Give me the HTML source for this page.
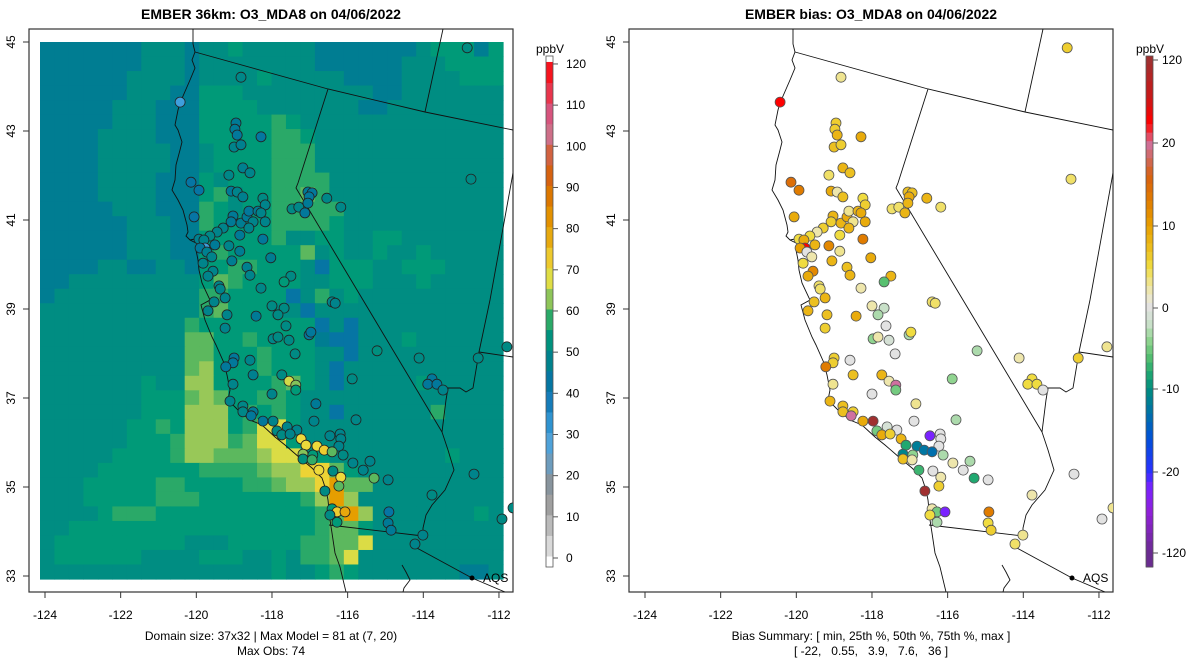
<!DOCTYPE html>
<html><head><meta charset="utf-8"><title>EMBER O3_MDA8</title>
<style>
html,body{margin:0;padding:0;background:#fff;}
svg{display:block;font-family:"Liberation Sans",Arial,sans-serif;}
</style></head>
<body>
<svg id="fig" width="1200" height="672" viewBox="0 0 1200 672" xmlns="http://www.w3.org/2000/svg">
<defs>
<clipPath id="clipL"><rect x="29" y="29" width="484" height="563"/></clipPath>
<clipPath id="clipR"><rect x="629" y="29" width="484" height="563"/></clipPath>
</defs>
<text x="271" y="19" text-anchor="middle" font-size="14" font-weight="bold">EMBER 36km: O3_MDA8 on 04/06/2022</text>
<text x="871" y="19" text-anchor="middle" font-size="14" font-weight="bold">EMBER bias: O3_MDA8 on 04/06/2022</text>
<g id="gL"></g>
<g id="gR"></g>
<text x="271" y="640" text-anchor="middle" font-size="12">Domain size: 37x32 | Max Model = 81 at (7, 20)</text>
<text x="271" y="655" text-anchor="middle" font-size="12">Max Obs: 74</text>
<text x="871" y="640" text-anchor="middle" font-size="12">Bias Summary: [ min, 25th %, 50th %, 75th %, max ]</text>
<text x="871" y="655" text-anchor="middle" font-size="12" style="white-space:pre" xml:space="preserve">[ -22,   0.55,   3.9,   7.6,   36 ]</text>
</svg>
<script>
// ---- data ----
const gridRows = [
"aaaaaaabbbabbcbbbbbaaaaaaabcccac",
"aaaaaaabbbabbbbbbbbaaaaaabbbcccc",
"aaaaaabbbbabbbbcbbbbbaaaabbbbccc",
"aaaaaabbbaacccbbbbbbbbbaabbbbbbb",
"aaaaabbbaaaccccbbbbbbbaabbbbbbbb",
"aaaaabbbaaacccccdcbbbbbbbbbbbbbb",
"aaaabbbbaaacccccddcbbbbbbbbbbbbb",
"aaaabbbbbaabccccdddbbbbbbbbbbbbb",
"aaaabbbbbaabccccdddbbbbbbbbbbbbb",
"aaaabbbbaaacbcccddddbbbbbbbbbbbb",
"aaaabbbbaaacdbccddedbbbbbbbbbbbb",
"aaaaabbbaaadcbccdddddbbbbbbbbbbb",
"aaaaaabbbaadccccddddcbbbbbbbbbbb",
"aaaaaabbbaacccccdbbccbbccbbbbbbb",
"aaaaaabbbaacdcccccebcbbcbbcbbbbb",
"aaaabbaabbaccddcccbhcccbbcccbbbb",
"aabbbbbbbbbcedccccbbcccbbbcbbbbb",
"abbbbbbbbbbddcccchbdbcbbbbbbbbbb",
"bbbbbbbbbbbdecccbbhbbbbbbbbbbbbb",
"bbbbbbbbbbdcccccccchbhbbbbbbbbbb",
"bbbbbbbbbbeeccdccccahhbbbcbbbbbb",
"bbbbbbbbbbeecccdcccbbhbbbbbbbbbb",
"bbbbbbbbbbefcccdcccbhbbbbbbbbbbb",
"bbbbbbbcbbffccccdecbhbbbbbcbbbbb",
"bbbbbbbcccefeccddcbbbbbbbbbbbbbb",
"bbbbbbbcccfffcdcdcbbhbbbbbbdbbbb",
"bbbbbbccdcfffcdggcbbbbbbbbbbbbbb",
"bbbbbbcccdfffdeggcbbbbbbbbbbbbbb",
"bbbbbccccdffeeefggbcbbbbbbbbcbbb",
"bbbbcccccccddddeffyyecbbbbbbbbbb",
"bbbcccccddccccddeffyoeebbbbbbbbb",
"bbbcccccdddcccccccdfofbbbbbbbbbb",
"bbbbcdddcccccccccccdeofbbbbbbbcb",
"bbcccccccccccccccccdeecbbbbbbbbb",
"bcccccccccbbbcccccddeegbbbbbbbbb",
"bccccccbbbbcccbbcbddegbbbbbbbbbb",
"bbbbbbbbbbbbbbbbcbbcdcbbbbbbbaab"];
const codeValues = {a:46,b:51,c:55,d:57.5,e:60,f:63,g:67,y:71,o:80,h:42};
const siteLon = [-118.82,-120.43,-112.84,-112.74,-118.95,-118.98,-118.92,-118.29,-119.00,-118.82,-118.77,-118.58,-119.14,-120.14,-119.93,-119.08,-118.92,-118.77,-118.24,-118.18,-117.05,-116.94,-117.02,-117.05,-117.47,-117.29,-117.13,-116.55,-116.18,-120.06,-119.03,-119.08,-118.82,-118.66,-118.61,-118.37,-118.29,-118.50,-118.18,-119.29,-119.45,-119.64,-119.93,-119.80,-119.77,-119.90,-119.51,-119.72,-119.14,-118.85,-118.85,-118.61,-119.59,-119.82,-119.56,-119.06,-118.66,-118.58,-118.24,-118.03,-117.50,-117.68,-119.69,-119.40,-119.37,-119.24,-119.53,-119.69,-118.29,-118.00,-117.68,-116.41,-116.33,-119.19,-118.42,-119.24,-117.84,-117.63,-117.97,-117.84,-117.55,-117.02,-116.97,-117.39,-115.22,-114.11,-112.55,-111.79,-119.00,-119.03,-119.22,-118.58,-118.50,-117.74,-117.55,-117.37,-117.37,-118.00,-115.88,-119.03,-113.77,-113.88,-113.64,-113.48,-119.11,-118.77,-118.77,-118.50,-118.55,-118.24,-117.97,-116.84,-116.89,-115.78,-117.60,-117.34,-117.87,-117.74,-117.52,-117.23,-117.10,-116.81,-116.62,-116.47,-116.20,-116.18,-116.23,-116.41,-116.12,-117.18,-116.92,-117.18,-116.94,-115.86,-115.41,-115.59,-115.30,-114.93,-116.76,-116.39,-116.18,-116.23,-116.60,-113.77,-112.66,-116.41,-116.28,-116.07,-116.47,-116.28,-114.91,-114.93,-114.85,-114.01,-114.22,-111.92,-111.63];
const siteLat = [44.21,43.65,44.87,41.92,43.18,43.04,42.91,42.87,42.64,42.69,42.17,42.06,42.01,41.85,41.67,41.65,41.63,41.52,41.49,41.34,41.63,41.61,41.52,41.38,41.25,41.29,41.16,41.49,41.29,41.07,41.09,40.96,40.93,41.07,41.20,41.20,41.16,40.96,40.96,40.82,40.73,40.64,40.57,40.55,40.37,40.37,40.44,40.28,40.42,40.66,40.30,40.82,40.17,40.03,39.85,40.08,39.94,39.76,40.57,40.15,39.74,39.61,39.74,39.52,39.45,39.25,39.16,38.96,39.47,39.07,39.02,39.16,39.13,38.87,38.84,38.57,38.87,38.62,38.33,38.37,38.30,38.42,38.48,37.99,38.06,37.90,37.90,38.15,37.90,37.79,37.70,37.85,37.52,37.52,37.38,37.29,37.18,37.09,37.43,37.31,37.43,37.31,37.31,37.18,36.93,36.82,36.69,36.69,36.60,36.48,36.48,36.87,36.48,36.51,36.35,36.28,36.26,36.17,36.19,36.08,35.94,35.92,35.83,36.15,36.19,36.08,35.92,35.79,35.72,35.74,35.72,35.63,35.61,35.54,35.58,35.38,35.20,35.16,35.38,35.36,35.22,35.02,34.91,34.82,35.29,34.51,34.44,34.44,34.37,34.21,34.44,34.19,34.03,33.92,33.72,34.28,34.53];
const siteObs = [49,30,51,50,45,45,44,43,48,47,47,48,49,42,42,45,48,47,50,48,45,44,44,45,50,49,44,49,49,42,45,45,46,45,44,46,48,48,48,48,48,49,47,48,30,44,45,47,48,45,46,48,48,48,48,46,47,48,44,46,50,55,48,48,48,48,48,48,49,50,50,48,48,48,45,48,50,50,49,50,50,43,44,50,52,50,50,50,44,44,44,48,47,50,66,62,55,48,50,48,44,44,44,48,48,49,49,45,44,44,48,45,48,49,48,48,50,50,48,70,70,70,72,48,48,48,48,60,50,62,55,52,58,48,48,48,60,48,70,50,70,60,50,50,48,55,72,78,50,55,42,45,45,48,48,50,50];
const siteBias = [3,26,6,4,6,6,8,9,7,6,8,7,4,14,13,9,2,7,5,6,7,7,9,8,4,4,8,8,4,9,8,6,8,9,3,8,9,3,9,6,2,5,5,9,26,10,8,0,12,5,3,8,2,5,12,8,7,8,13,9,8,-6,9,4,4,8,7,8,2,2,-2,4,4,7,9,6,-3,0,-4,2,-1,-3,5,0,-3,2,6,3,6,6,13,0,7,8,2,20,-5,0,-4,3,5,5,5,0,8,7,7,6,20,9,34,3,0,-3,-1,0,-5,9,6,8,-8,-12,-13,-22,0,0,0,-14,-3,-11,-4,7,2,2,-3,0,-8,0,-7,0,2,6,34,2,0,2,-5,-22,5,-3,13,5,6,3,4,0,3];
const o3Ticks = [0,10,20,30,40,50,60,70,80,90,100,110,120];
const biasTicks = [-120,-20,-10,0,10,20,120];
const lonTicks = [-124,-122,-120,-118,-116,-114,-112];
const latTicks = [33,35,37,39,41,43,45];

// ---- scales ----
const NS="http://www.w3.org/2000/svg";
function X(lon){return 45+(lon+124)*37.83;}
function Y(lat){return 42+(45-lat)*44.5;}
const o3Stops=[[0,'#e6e6e6'],[5,'#cccccc'],[10,'#a8a8a8'],[15,'#959595'],[20,'#7a92a4'],[25,'#5fa5d6'],[30,'#3f9fdc'],[35,'#1f86c4'],[40,'#0a72ae'],[45,'#007a96'],[50,'#008a84'],[55,'#009a78'],[57,'#20a66a'],[60,'#5cb85e'],[63,'#98c858'],[66,'#d2da48'],[69,'#ece040'],[72,'#eecc30'],[76,'#e8b018'],[80,'#e69e00'],[85,'#e08400'],[90,'#d86a00'],[95,'#d45a20'],[100,'#d06a60'],[104,'#cc72a0'],[108,'#d85078'],[112,'#e83850'],[116,'#f02030'],[120,'#ff0000']];
const biasStops=[[-120,'#6a2c90'],[-30,'#8a20e8'],[-22,'#7a22ff'],[-18,'#2a40f0'],[-15,'#0068b8'],[-12,'#007e98'],[-10,'#008c80'],[-8,'#20a870'],[-6,'#58c070'],[-4,'#90d490'],[-2,'#c8e0c8'],[0,'#e2e2e2'],[1,'#ece8c8'],[3,'#efe490'],[5,'#f0dc40'],[7,'#ecc020'],[10,'#e8a000'],[13,'#e07c00'],[15,'#d86010'],[18,'#d06858'],[20,'#d070a0'],[23,'#e84050'],[26,'#ff0000'],[30,'#c02020'],[34,'#a03030'],[120,'#a03030']];
const biasBarStops=[[-120,'#6a2c90'],[-70,'#9020d8'],[-40,'#7a22ff'],[-20,'#2a30ff'],[-16,'#0050d8'],[-13,'#0070a8'],[-10,'#008c80'],[-8,'#20a870'],[-6,'#58c070'],[-4,'#90d490'],[-2,'#c8e0c8'],[0,'#e2e2e2'],[1.5,'#ece8c8'],[3,'#efe490'],[5,'#f0dc40'],[7,'#ecc020'],[10,'#e8a000'],[13,'#e07c00'],[16,'#d86010'],[18,'#d06858'],[20,'#d070a0'],[30,'#e84050'],[45,'#ff0000'],[75,'#c81818'],[120,'#a03030']];
function hex(c){return [parseInt(c.substr(1,2),16),parseInt(c.substr(3,2),16),parseInt(c.substr(5,2),16)];}
function interp(stops,v){
  if(v<=stops[0][0])return stops[0][1];
  for(let i=1;i<stops.length;i++){if(v<=stops[i][0]){const a=stops[i-1],b=stops[i];const t=(v-a[0])/(b[0]-a[0]);const ca=hex(a[1]),cb=hex(b[1]);return 'rgb('+ca.map((x,k)=>Math.round(x+(cb[k]-x)*t)).join(',')+')';}}
  return stops[stops.length-1][1];
}
const biasY=[[-120,553],[-20,472],[-10,389],[0,308],[10,226],[20,143],[120,60]];
function BY(v){for(let i=1;i<biasY.length;i++){if(v<=biasY[i][0]||i==biasY.length-1){const a=biasY[i-1],b=biasY[i];return a[1]+(v-a[0])/(b[0]-a[0])*(b[1]-a[1]);}}}
function BYinv(y){
  if(y>=biasY[0][1])return -120;
  for(let i=1;i<biasY.length;i++){const a=biasY[i-1],b=biasY[i];if(y>=b[1]){return a[0]+(y-a[1])/(b[1]-a[1])*(b[0]-a[0]);}}
  return 120;
}
function OY(v){return 558-(v)*4.117;}
function el(tag,attrs,parent,txt){const e=document.createElementNS(NS,tag);for(const k in attrs)e.setAttribute(k,attrs[k]);if(txt!==undefined)e.textContent=txt;parent.appendChild(e);return e;}

const coast=[[193,29],[193,44],[195,52],[192,60],[195,68],[190,80],[180,103],[178,110],[175,125],[178,130],[182,142],[180,150],[176,165],[175,180],[172,190],[178,200],[183,210],[187,225],[188,232],[186,236],[190,240],[198,244],[196,250],[198,260],[199,270],[202,283],[210,300],[201,305],[205,320],[212,337],[216,345],[224,363],[227,375],[230,390],[228,400],[238,410],[250,420],[262,425],[275,437],[285,445],[300,458],[312,468],[322,478],[326,490],[328,500],[330,520],[332,533],[335,553],[340,567],[346,592]];
const borders=[
 [[195,52],[328,89],[425,112],[513,130]],
 [[328,89],[298,183],[296,188],[363,300],[442,432]],
 [[443,29],[425,112]],
 [[513,173],[490,300],[479,352],[473,388],[466,392],[460,388],[448,388],[446,400],[442,432],[448,450],[454,470],[445,490],[432,505],[426,515],[423,528],[423,536]],
 [[479,352],[513,357]],
 [[329,525],[423,536]],
 [[415,547],[472,578],[505,592]],
 [[402,565],[406,572],[410,580],[404,588],[403,592]],
 [[190,240],[200,238],[210,237],[216,235]]
];

function drawPanel(g,dx,isBias,clipId){
  const pn=isBias?'bias':'model';
  const box=el('rect',{x:29+dx,y:29,width:484,height:563,fill:'none',stroke:'#333','stroke-width':1.2},g);
  
  
  const clipG=el('g',{'clip-path':'url(#'+clipId+')'},g);
  
  
  if(!isBias){
    const cw=463/32, ch=537/37;
    gridRows.forEach((row,r)=>{
      for(let c=0;c<32;c++){
        const code=row[Math.min(c,row.length-1)];
        const v=codeValues[code];
        const cell=el('rect',{x:(40+c*cw).toFixed(2),y:(42+r*ch).toFixed(2),width:(cw+0.6).toFixed(2),height:(ch+0.6).toFixed(2),fill:interp(o3Stops,v)},clipG);
        
        
      }
    });
  }
  const lp=(pts)=>pts.map(p=>(p[0]+dx)+','+p[1]).join(' ');
  const cl=el('polyline',{points:lp(coast),fill:'none',stroke:'#111','stroke-width':0.9},clipG);
  
  
  borders.forEach(b=>{
    const bl=el('polyline',{points:lp(b),fill:'none',stroke:'#111','stroke-width':0.9},clipG);
    
    
  });
  for(let i=0;i<siteLon.length;i++){
    const fill=isBias?interp(biasStops,siteBias[i]):interp(o3Stops,siteObs[i]);
    const pt=el('circle',{cx:(X(siteLon[i])+dx).toFixed(1),cy:Y(siteLat[i]).toFixed(1),r:5,fill:fill,stroke:isBias?'#555':'#222','stroke-width':0.8},clipG);
    
    
  }
  const aqd=el('circle',{cx:472+dx,cy:578,r:2.5,fill:'#000'},g);
  
  
  const aqt=el('text',{x:483+dx,y:582,'font-size':12},g,'AQS');
  
  
  lonTicks.forEach(t=>{
    const x=X(t)+dx;
    const tk=el('line',{x1:x,y1:592,x2:x,y2:598,stroke:'#333'},g);
    
    
    const tl=el('text',{x:x,y:619,'font-size':12,'text-anchor':'middle'},g,String(t));
    
    
  });
  latTicks.forEach(t=>{
    const y=Y(t);
    const tk=el('line',{x1:23+dx,y1:y,x2:29+dx,y2:y,stroke:'#333'},g);
    
    
    const tl=el('text',{x:0,y:0,'font-size':12,'text-anchor':'middle',transform:'translate('+(15+dx)+','+y+') rotate(-90)'},g,String(t));
    
    
  });
  const cbx=isBias?1146:546;
  const cbg=el('g',{},g);
  
  
  if(!isBias){
    for(let v=0;v<120;v+=5){
      const s=el('rect',{x:cbx,y:OY(v+5)-2,width:7,height:21.1,fill:interp(o3Stops,v+2.5)},cbg);
      
      
    }
  } else {
    const n=60;
    for(let i=0;i<n;i++){
      const y0=56+i*(511/n);
      const v=BYinv(y0+511/n/2);
      const s=el('rect',{x:cbx,y:y0,width:7,height:511/n+0.5,fill:interp(biasBarStops,v)},cbg);
      
      
    }
  }
  el('rect',{x:cbx,y:56,width:7,height:511,fill:'none',stroke:'#555','stroke-width':0.8},cbg);
  const ticks=isBias?biasTicks:o3Ticks;
  ticks.forEach(t=>{
    const y=isBias?BY(t):OY(t);
    el('line',{x1:cbx+7,y1:y,x2:cbx+12,y2:y,stroke:'#555'},cbg);
    const tl=el('text',{x:cbx+(isBias?16:20),y:y+4,'font-size':12},cbg,String(t));
    
    
  });
  const ut=el('text',{x:cbx+4,y:53,'font-size':12,'text-anchor':'middle'},cbg,'ppbV');
  
  
}
drawPanel(document.getElementById('gL'),0,false,'clipL');
drawPanel(document.getElementById('gR'),600,true,'clipR');
</script>
</body></html>
